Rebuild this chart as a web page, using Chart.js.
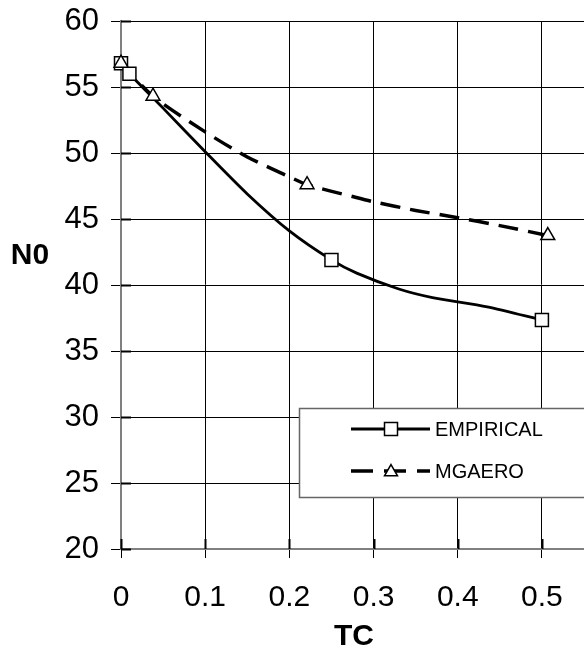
<!DOCTYPE html>
<html>
<head>
<meta charset="utf-8">
<script src="https://cdn.jsdelivr.net/npm/chart.js@4"></script>
<style>
html, body { margin: 0; padding: 0; background: #fff; overflow: hidden; }
#wrap { width: 584px; height: 650px; position: relative; }
canvas { display: block; }
</style>
</head>
<body>
<div id="wrap"><canvas id="chart"></canvas></div>
<script>
// EMPIRICAL curve (solid) and the points that carry a square marker
const empiricalTC = [0, 0.01, 0.05, 0.1, 0.15, 0.2, 0.25, 0.28, 0.33, 0.37, 0.435, 0.5];
const empiricalN0 = [56.8, 56.0, 53.4, 50.1, 46.9, 44.1, 41.9, 40.9, 39.7, 39.05, 38.35, 37.35];
const empiricalMarkTC = [0, 0.01, 0.25, 0.5];
const empiricalMarkN0 = [56.8, 56.0, 41.9, 37.35];

// MGAERO curve (dashed) and the points that carry a triangle marker
const mgaeroTC = [0, 0.038, 0.1, 0.15, 0.2, 0.221, 0.275, 0.3, 0.35, 0.4, 0.45, 0.507];
const mgaeroN0 = [56.8, 54.3, 51.6, 49.7, 48.2, 47.6, 46.7, 46.3, 45.65, 45.1, 44.5, 43.75];
const mgaeroMarkTC = [0, 0.038, 0.221, 0.507];
const mgaeroMarkN0 = [56.8, 54.3, 47.6, 43.75];

const xTicks = [0, 0.1, 0.2, 0.3, 0.4, 0.5];
const yTicks = [20, 25, 30, 35, 40, 45, 50, 55, 60];
const seriesNames = ['EMPIRICAL', 'MGAERO'];

const FONT = "'Liberation Sans', Arial, sans-serif";

function points(xs, ys) {
    return xs.map((x, i) => ({x: x, y: ys[i]}));
}

function drawSquare(ctx, cx, cy, half) {
    ctx.fillStyle = '#fff';
    ctx.fillRect(cx - half, cy - half, half * 2, half * 2);
    ctx.strokeRect(cx - half, cy - half, half * 2, half * 2);
}

function drawTriangle(ctx, cx, cy, r) {
    ctx.beginPath();
    ctx.moveTo(cx, cy - r);
    ctx.lineTo(cx + r * 0.866, cy + r / 2);
    ctx.lineTo(cx - r * 0.866, cy + r / 2);
    ctx.closePath();
    ctx.fillStyle = '#fff';
    ctx.fill();
    ctx.stroke();
}

function noPadding(scale) {
    scale.paddingTop = 0;
    scale.paddingBottom = 0;
    scale.paddingLeft = 0;
    scale.paddingRight = 0;
}

const decorations = {
    id: 'decorations',
    afterDraw(chart) {
        const {ctx, chartArea} = chart;
        const x = chart.scales.x;
        const y = chart.scales.y;
        ctx.save();

        // inward tick marks
        ctx.strokeStyle = '#000';
        ctx.lineWidth = 2;
        yTicks.forEach(v => {
            const py = Math.round(y.getPixelForValue(v)) + 0.5;
            ctx.beginPath();
            ctx.moveTo(chartArea.left, py);
            ctx.lineTo(chartArea.left + 10, py);
            ctx.stroke();
        });
        xTicks.forEach(v => {
            const px = Math.round(x.getPixelForValue(v)) + 0.5;
            ctx.beginPath();
            ctx.moveTo(px, chartArea.bottom);
            ctx.lineTo(px, chartArea.bottom - 10);
            ctx.stroke();
        });

        // legend box
        const bx = 299, by = 408, bh = 89;
        ctx.fillStyle = '#fff';
        ctx.fillRect(bx, by, chart.width - bx + 5, bh);
        ctx.strokeStyle = '#666';
        ctx.lineWidth = 1.5;
        ctx.strokeRect(bx + 0.5, by + 0.5, chart.width - bx + 5, bh);

        ctx.strokeStyle = '#000';
        ctx.lineWidth = 3;
        // EMPIRICAL row
        ctx.beginPath();
        ctx.moveTo(351, 429);
        ctx.lineTo(430, 429);
        ctx.stroke();
        ctx.lineWidth = 1.5;
        drawSquare(ctx, 391, 429, 6.5);
        // MGAERO row
        ctx.lineWidth = 3.5;
        ctx.setLineDash([22, 11]);
        ctx.beginPath();
        ctx.moveTo(351, 471);
        ctx.lineTo(430, 471);
        ctx.stroke();
        ctx.setLineDash([]);
        ctx.lineWidth = 1.5;
        drawTriangle(ctx, 391, 472, 7.5);

        ctx.fillStyle = '#000';
        ctx.font = '20px ' + FONT;
        ctx.textAlign = 'left';
        ctx.textBaseline = 'middle';
        ctx.fillText(seriesNames[0], 435, 430);
        ctx.fillText(seriesNames[1], 435, 472);

        // axis titles
        ctx.font = 'bold 30px ' + FONT;
        ctx.textAlign = 'center';
        ctx.fillText('N0', 30, 256);
        ctx.fillText('TC', 354, 637);
        ctx.restore();
    }
};

new Chart(document.getElementById('chart'), {
    type: 'line',
    data: {
        datasets: [
            {
                label: seriesNames[1] + ' markers',
                data: points(mgaeroMarkTC, mgaeroMarkN0),
                showLine: false,
                clip: false,
                pointStyle: 'triangle',
                pointRadius: 8,
                pointBackgroundColor: '#fff',
                pointBorderColor: '#000',
                pointBorderWidth: 1.5
            },
            {
                label: seriesNames[0] + ' markers',
                data: points(empiricalMarkTC, empiricalMarkN0),
                showLine: false,
                clip: false,
                pointStyle: 'rect',
                pointRadius: 9.2,
                pointBackgroundColor: '#fff',
                pointBorderColor: '#000',
                pointBorderWidth: 1.5
            },
            {
                label: seriesNames[0],
                data: points(empiricalTC, empiricalN0),
                borderColor: '#000',
                borderWidth: 2.8,
                pointRadius: 0,
                tension: 0.25,
                fill: false
            },
            {
                label: seriesNames[1],
                data: points(mgaeroTC, mgaeroN0),
                borderColor: '#000',
                borderWidth: 3.5,
                borderDash: [20, 10],
                pointRadius: 0,
                tension: 0.25,
                fill: false
            }
        ]
    },
    options: {
        responsive: true,
        maintainAspectRatio: false,
        animation: false,
        layout: {
            autoPadding: false,
            padding: {top: 21, left: 0, right: 0, bottom: 0}
        },
        plugins: {
            legend: {display: false},
            tooltip: {enabled: false}
        },
        scales: {
            x: {
                type: 'linear',
                min: 0,
                max: 0.55,
                afterBuildTicks: scale => {
                    scale.ticks = xTicks.map(v => ({value: v}));
                },
                afterFit: scale => {
                    scale.height = 101;
                    noPadding(scale);
                },
                grid: {
                    color: '#000',
                    lineWidth: 1,
                    tickLength: 9,
                    drawTicks: true
                },
                border: {color: '#808080', width: 2},
                ticks: {
                    color: '#000',
                    font: {family: FONT, size: 30},
                    padding: 22,
                    maxRotation: 0,
                    callback: v => String(v)
                }
            },
            y: {
                type: 'linear',
                min: 20,
                max: 60,
                afterBuildTicks: scale => {
                    scale.ticks = yTicks.map(v => ({value: v}));
                },
                afterFit: scale => {
                    scale.width = 121;
                    noPadding(scale);
                },
                grid: {
                    color: '#000',
                    lineWidth: 1,
                    tickLength: 10,
                    drawTicks: true
                },
                border: {color: '#808080', width: 2},
                ticks: {
                    color: '#000',
                    font: {family: FONT, size: 31},
                    padding: 12
                }
            }
        }
    },
    plugins: [decorations]
});
</script>
</body>
</html>
